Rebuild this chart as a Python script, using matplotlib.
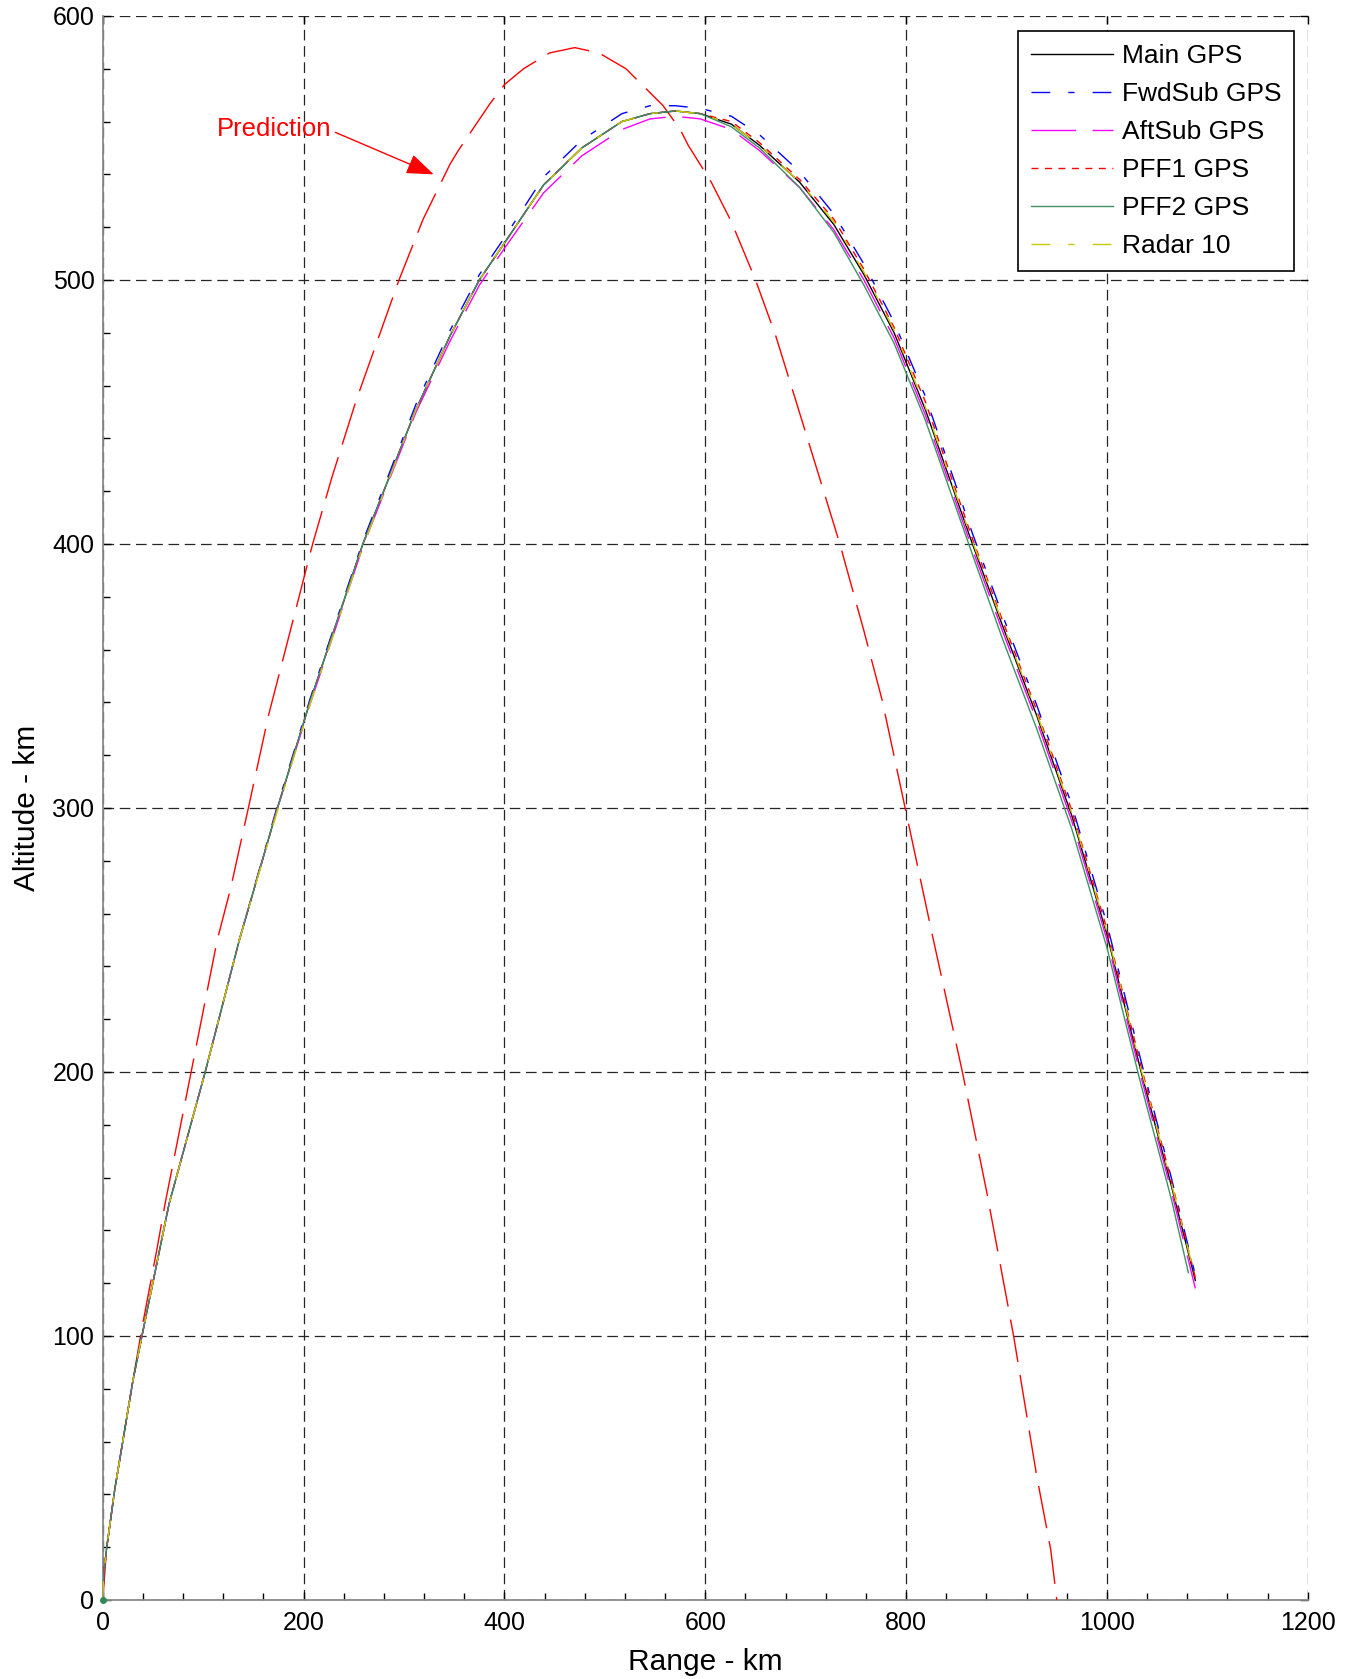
import matplotlib
matplotlib.use("Agg")
import matplotlib.pyplot as plt
from matplotlib.ticker import MultipleLocator

plt.rcParams['font.family'] = ['Liberation Sans', 'DejaVu Sans']

# ---------------- data ----------------
range_gps = [0, 1, 4, 12, 30, 39, 66, 102, 136, 174, 207, 230, 259, 312, 346, 375,
             400, 439, 477, 517, 545, 570, 595, 626, 654, 694, 728, 758, 788, 819,
             866, 896, 930, 965, 1000, 1034, 1064, 1088]
range_pff2 = [0, 1, 4, 12, 30, 39, 66, 102, 136, 174, 207, 230, 259, 312, 346, 375,
              400, 439, 477, 517, 545, 570, 595, 626, 654, 694, 728, 758, 788, 819,
              866, 896, 930, 965, 1000, 1034, 1064, 1081]

alt_main = [0, 10, 20, 42, 83, 100, 150, 200, 250, 300, 341, 367, 400, 451, 479, 500,
            514, 536, 550, 560, 563, 564, 563, 559, 551, 537, 521, 502, 480, 451,
            400, 369, 335, 297, 252, 200, 157, 121]
alt_fwd = [0, 10, 20, 42, 83, 100, 150, 200, 250, 301, 342, 368, 401, 453, 481, 502,
           516, 539, 553, 563, 566, 566, 565, 562, 555, 541, 525, 506, 484, 456,
           404, 373, 339, 301, 256, 204, 160, 123]
alt_aft = [0, 10, 20, 42, 83, 100, 150, 200, 250, 300, 340, 366, 399, 450, 477, 498,
           512, 533, 547, 557, 561, 562, 561, 557, 549, 535, 519, 500, 478, 449,
           398, 367, 333, 295, 250, 198, 155, 118]
alt_pff1 = [0, 10, 20, 42, 83, 100, 150, 200, 250, 300, 341, 367, 400, 451, 479, 500,
            514, 536, 550, 560, 563, 564, 563, 560, 552, 538, 523, 504, 482, 454,
            402, 371, 337, 299, 254, 202, 159, 122]
alt_pff2 = [0, 10, 20, 42, 83, 100, 150, 200, 250, 300, 341, 367, 400, 451, 479, 500,
            514, 536, 550, 560, 563, 564, 563, 558, 550, 535, 518, 498, 476, 447,
            396, 364, 330, 292, 247, 195, 152, 124]
alt_radar = [0, 10, 20, 42, 83, 100, 150, 200, 250, 299, 340, 366, 399, 451, 479, 500,
             514, 536, 550, 560, 563, 564, 563, 559, 551, 537, 522, 503, 481, 452,
             401, 370, 336, 298, 253, 201, 158, 122]

range_pred = [0, 4, 12, 30, 39, 54, 62, 88, 114, 127, 145, 165, 186, 209, 228, 252,
              295, 319, 346, 354, 386, 400, 419, 445, 470, 494, 521, 558, 575, 583,
              606, 626, 650, 670, 692, 734, 758, 776, 799, 826, 856, 880, 907, 930,
              944, 950]
alt_pred = [0, 20, 42, 83, 103, 133, 150, 200, 250, 269, 300, 335, 366, 400, 425, 454,
            500, 523, 544, 549, 567, 574, 580, 586, 588, 586, 580, 566, 557, 551,
            537, 522, 500, 479, 452, 400, 367, 341, 300, 252, 200, 155, 100, 47,
            19, 0]

labels = ["Main GPS", "FwdSub GPS", "AftSub GPS", "PFF1 GPS", "PFF2 GPS", "Radar 10"]

# ---------------- figure ----------------
fig = plt.figure(figsize=(13.54, 16.79), dpi=100)
ax = fig.add_axes([0.0759, 0.0471, 0.8900, 0.9434])

lw = 1.0
ax.plot(range_pred, alt_pred, color='red', lw=lw, dashes=(31, 9.5), zorder=3)

ax.plot(range_gps, alt_main, color='black', lw=lw, ls='-', label=labels[0], zorder=4)
ax.plot(range_gps, alt_fwd, color='blue', lw=lw, dashes=(13.5, 13, 4.5, 13),
        label=labels[1], zorder=4)
ax.plot(range_gps, alt_aft, color='magenta', lw=lw, dashes=(32, 12),
        label=labels[2], zorder=4)
ax.plot(range_gps, alt_pff1, color='red', lw=lw, dashes=(5, 4.7),
        label=labels[3], zorder=4)
ax.plot(range_pff2, alt_pff2, color='#3f9068', lw=lw, ls='-',
        label=labels[4], zorder=4)
ax.plot(range_gps, alt_radar, color='#c8c800', lw=lw, dashes=(13.5, 13, 4.5, 13),
        label=labels[5], zorder=4)
ax.plot([range_pff2[0]], [alt_pff2[0]], 'o', color='#2e8b57', ms=4, zorder=5,
        clip_on=False)

ax.set_xlim(0, 1200)
ax.set_ylim(0, 600)
ax.xaxis.set_major_locator(MultipleLocator(200))
ax.yaxis.set_major_locator(MultipleLocator(100))
ax.xaxis.set_minor_locator(MultipleLocator(40))
ax.yaxis.set_minor_locator(MultipleLocator(20))

ax.tick_params(which='major', direction='in', length=6, width=1, top=True,
               right=True, labelsize=18, pad=6, color='black')
ax.tick_params(which='minor', direction='in', length=5, width=1, top=False,
               right=False, color='black')
ax.tick_params(axis='x', which='major', pad=8)

for side in ['top', 'right']:
    ax.spines[side].set_visible(False)
for side in ['left', 'bottom']:
    ax.spines[side].set_color('#8a8a8a')
    ax.spines[side].set_linewidth(1.3)

ax.grid(True, which='major', color='0.15', lw=0.9, ls=(0, (8.5, 4.5)))

ax.set_xlabel('Range - km', fontsize=21.5, labelpad=9)
ax.set_ylabel('Altitude - km', fontsize=21.5, labelpad=8)

ax.annotate('Prediction', xy=(329.5, 540), xytext=(113.6, 557),
            ha='left', va='center', color='red', fontsize=18.5,
            arrowprops=dict(arrowstyle='-|>,head_length=1.2,head_width=0.45',
                            color='red', lw=1.0, mutation_scale=14,
                            shrinkA=1, shrinkB=0, relpos=(1.0, 0.45)))

leg = ax.legend(loc='upper left', bbox_to_anchor=(0.7593, 0.9907),
                borderaxespad=0, fontsize=19, handlelength=3.1,
                handletextpad=0.34, labelspacing=0.53, borderpad=0.5,
                fancybox=False, framealpha=1, edgecolor='black')
leg.get_frame().set_linewidth(1.2)

fig.savefig('out.png', dpi=100)
